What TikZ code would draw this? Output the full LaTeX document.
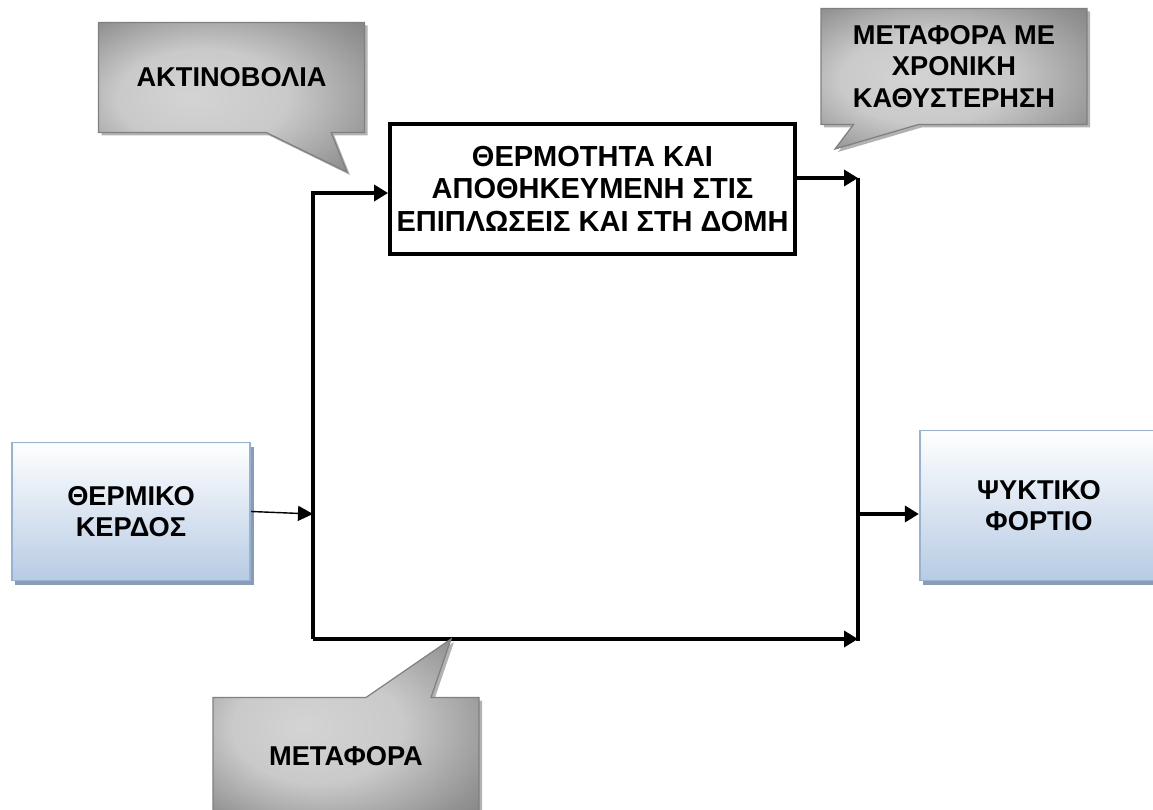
\documentclass[tikz,border=0pt]{standalone}
\usepackage{fontspec}
\setmainfont{Liberation Sans}
\usepackage{tikz}
\usetikzlibrary{shapes.callouts,shadows,arrows.meta}
\definecolor{boxbot}{RGB}{183,203,228}
\definecolor{boxline}{RGB}{149,179,215}
\definecolor{boxshadow}{RGB}{140,155,178}
\pgfdeclareradialshading{bubbleshade}{\pgfpoint{-8bp}{0bp}}{color(0bp)=(black!17); color(16bp)=(black!21); color(32bp)=(black!42); color(50bp)=(black!62)}

\begin{document}
\begin{tikzpicture}
\tikzstyle{txt} = [font=\bfseries\fontsize{15.5}{18}\selectfont,align=center];
\tikzstyle{block} = [txt,draw=boxline,line width=1pt,top color=white,bottom color=boxbot,minimum width=4.77cm,drop shadow={shadow xshift=0.07cm,shadow yshift=-0.09cm,fill=boxshadow,opacity=1}];
\tikzstyle{storebox} = [txt,font=\bfseries\fontsize{16.5}{18.5}\selectfont,draw,line width=2.2pt,fill=white,minimum width=8.1cm,minimum height=2.6cm];
\tikzstyle{bubble} = [txt,rectangle callout,draw=black!50,line width=0.7pt,shading=bubbleshade,callout pointer width=1.3cm,minimum width=5.32cm,drop shadow={shadow xshift=0.06cm,shadow yshift=-0.06cm,fill=black!30,opacity=1}];
\tikzstyle{flow} = [line width=2.2pt,-{Triangle[length=0.28cm,width=0.32cm]}];
\tikzstyle{thinflow} = [line width=0.8pt,-{Triangle[length=0.3cm,width=0.3cm]}];
\useasboundingbox (0,0) rectangle (23.06,16.18);

\node [storebox] (heat) at (11.85,12.4) {ΘΕΡΜΟΤΗΤΑ ΚΑΙ\\ΑΠΟΘΗΚΕΥΜΕΝΗ ΣΤΙΣ\\ΕΠΙΠΛΩΣΕΙΣ ΚΑΙ ΣΤΗ ΔΟΜΗ};
\node [block,minimum height=2.76cm] (gain) at (2.62,5.95) {ΘΕΡΜΙΚΟ\\ΚΕΡΔΟΣ};
\node [block,minimum height=3.0cm] (load) at (20.78,6.07) {ΨΥΚΤΙΚΟ\\ΦΟΡΤΙΟ};

\coordinate (v1) at (6.26,3.4);
\coordinate (v2) at (6.26,12.32);
\coordinate (v3) at (17.16,12.62);
\coordinate (v4) at (17.16,3.4);
\coordinate (v5) at (6.26,5.9);
\coordinate (v6) at (17.16,5.9);

\draw[flow] (v1) -- (v2) -- (heat.west |- v2);
\draw[flow] (heat.east |- v3) -- (v3);
\draw[line width=2.2pt] (v3) -- ([yshift=-1.1pt]v4);
\draw[flow] (v1) -- (v4);
\draw[thinflow] (gain.east) -- (v5);
\draw[flow] (v6) -- (load.west |- v6);

\node [bubble,minimum height=2.2cm,callout absolute pointer={(6.94,12.74)}] (rad) at (4.63,14.63) {ΑΚΤΙΝΟΒΟΛΙΑ};
\node [bubble,minimum height=2.32cm,callout absolute pointer={(16.7,13.2)}] (lag) at (19.08,14.85) {ΜΕΤΑΦΟΡΑ ΜΕ\\ΧΡΟΝΙΚΗ\\ΚΑΘΥΣΤΕΡΗΣΗ};
\node [bubble,minimum height=2.34cm,callout absolute pointer={(9.02,3.4)}] (conv) at (6.92,1.06) {ΜΕΤΑΦΟΡΑ};

\end{tikzpicture}
\end{document}
